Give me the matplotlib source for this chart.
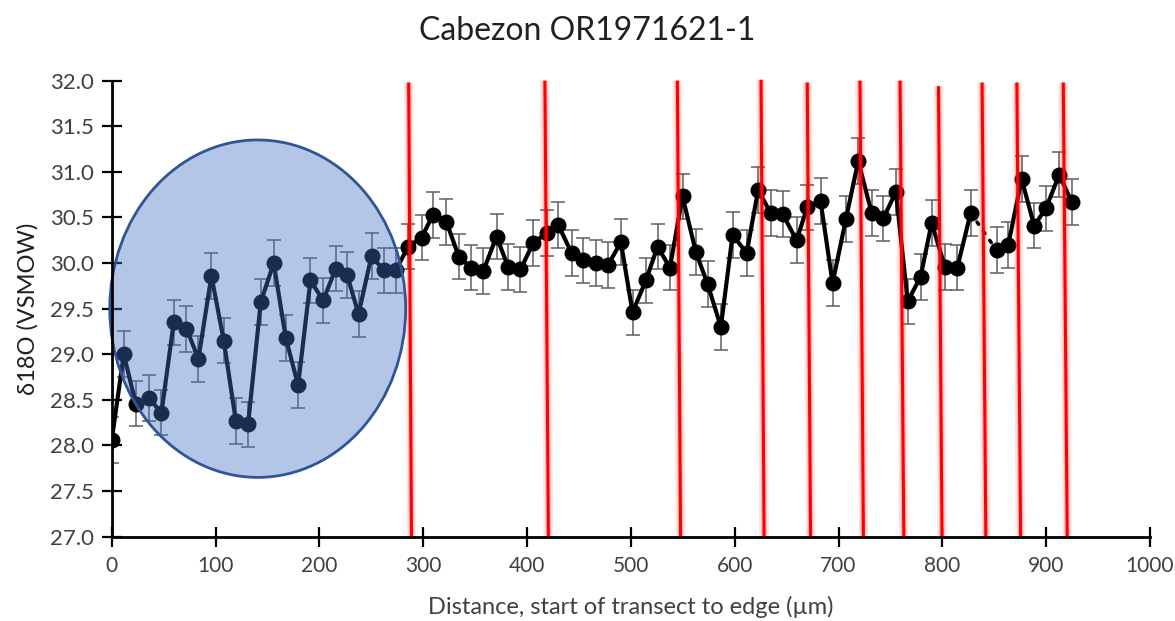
import matplotlib
matplotlib.use("Agg")
import matplotlib.pyplot as plt
from matplotlib.patches import Ellipse

plt.rcParams['font.family'] = ['Lato', 'DejaVu Sans']

# Transect positions (µm) and oxygen isotope values
distance = [0, 11.6, 23.1, 35.6, 47.9, 59.7, 72.0, 83.5, 96.0, 107.9,
            119.5, 131.3, 143.5, 156.0, 167.6, 179.5, 191.4, 203.6, 215.8, 226.7,
            237.7, 250.2, 262.0, 273.6, 285.4, 298.4, 309.5, 322.4, 334.3, 345.9,
            357.7, 370.6, 381.8, 393.7, 405.9, 418.8, 430.0, 442.9, 453.5, 466.3,
            478.1, 490.4, 501.6, 514.5, 525.7, 537.6, 549.8, 562.6, 573.9, 586.7,
            598.0, 611.5, 622.6, 634.6, 646.1, 659.6, 669.8, 682.7, 694.3, 707.1,
            719.0, 731.9, 743.1, 755.3, 766.6, 779.1, 789.7, 802.5, 814.4, 827.3,
            852.3, 863.5, 876.4, 888.5, 899.8, 912.6, 924.6]
d18o = [28.06, 29.00, 28.46, 28.52, 28.36, 29.35, 29.28, 28.95, 29.86, 29.15,
        28.27, 28.23, 29.57, 30.00, 29.18, 28.66, 29.81, 29.59, 29.94, 29.87,
        29.44, 30.08, 29.92, 29.92, 30.18, 30.28, 30.53, 30.45, 30.07, 29.95,
        29.91, 30.29, 29.96, 29.93, 30.22, 30.33, 30.42, 30.11, 30.03, 30.00,
        29.98, 30.23, 29.46, 29.81, 30.18, 29.95, 30.73, 30.12, 29.77, 29.30,
        30.31, 30.11, 30.80, 30.55, 30.54, 30.25, 30.61, 30.68, 29.78, 30.48,
        31.12, 30.55, 30.49, 30.78, 29.58, 29.85, 30.44, 29.96, 29.95, 30.55,
        30.14, 30.20, 30.92, 30.41, 30.60, 30.97, 30.67]
err = [0.25] * len(d18o)
gap_after = 69  # index of the last point before the dotted connector

# Growth-band boundaries: (x at top, x at bottom) in µm
band_top = [286.0, 417.2, 544.8, 625.4, 669.9, 720.7, 759.3, 796.3, 838.3, 871.8, 916.5]
band_bottom = [288.7, 420.6, 547.9, 628.3, 673.1, 724.0, 762.9, 799.7, 841.9, 875.4, 920.3]
band_ytop = [31.98, 32.0, 32.0, 32.01, 31.98, 32.0, 32.0, 31.94, 31.98, 31.98, 31.98]

x_ticks = list(range(0, 1001, 100))
y_ticks = [27.0 + 0.5 * i for i in range(11)]

fig = plt.figure(figsize=(11.75, 6.21), dpi=100)
ax = fig.add_axes([0.0951, 0.1358, 0.8836, 0.7343])

ax.errorbar(distance, d18o, yerr=err, fmt='none', ecolor='#5f5f5f',
            elinewidth=1.1, capsize=5, capthick=1.1, zorder=2)
i = gap_after + 1
ax.plot(distance[:i], d18o[:i], color='black', lw=3, marker='o',
        markersize=10.5, zorder=3)
ax.plot(distance[i:], d18o[i:], color='black', lw=3, marker='o',
        markersize=10.5, zorder=3)
ax.plot(distance[i - 1:i + 1], d18o[i - 1:i + 1], color='black', lw=2.5,
        linestyle=(0, (0.8, 2.4)), dash_capstyle='round', zorder=3)

ax.add_patch(Ellipse((140.6, 29.50), 285.0, 3.70, facecolor='#4472C4',
                     alpha=0.4, edgecolor='none', zorder=4, clip_on=False))
ax.add_patch(Ellipse((140.6, 29.50), 285.0, 3.70, facecolor='none',
                     edgecolor='#2F5597', lw=2, zorder=4, clip_on=False))

for xt, xb, yt in zip(band_top, band_bottom, band_ytop):
    ax.plot([xt, xb], [yt, 27.0], color='#ff0000', lw=7, alpha=0.10,
            solid_capstyle='butt', zorder=5, clip_on=False)
    ax.plot([xt, xb], [yt, 27.0], color='#ff3030', lw=4, alpha=0.25,
            solid_capstyle='butt', zorder=5, clip_on=False)
    ax.plot([xt, xb], [yt, 27.0], color='#ff0000', lw=2.2,
            solid_capstyle='butt', zorder=6, clip_on=False)

ax.set_xlim(0, 1000)
ax.set_ylim(27.0, 32.0)
ax.set_xticks(x_ticks)
ax.set_yticks(y_ticks)
ax.set_yticklabels([f"{v:.1f}" for v in y_ticks])
for s in ['top', 'right']:
    ax.spines[s].set_visible(False)
for s in ['left', 'bottom']:
    ax.spines[s].set_linewidth(2)
    ax.spines[s].set_zorder(7)
ax.tick_params(axis='both', direction='inout', length=14, width=1.6,
               colors='black', labelcolor='#404040')
ax.tick_params(axis='y', pad=6, labelsize=16)
ax.tick_params(axis='x', pad=7, labelsize=15)

ax.set_xlabel('Distance, start of transect to edge (µm)', fontsize=17,
              color='#404040', labelpad=14)
ax.set_ylabel('δ18O (VSMOW)', fontsize=17, color='#202020', labelpad=8)
fig.suptitle('Cabezon OR1971621-1', fontsize=23, y=0.975, color='#202020')

fig.savefig('out.png', dpi=100)
